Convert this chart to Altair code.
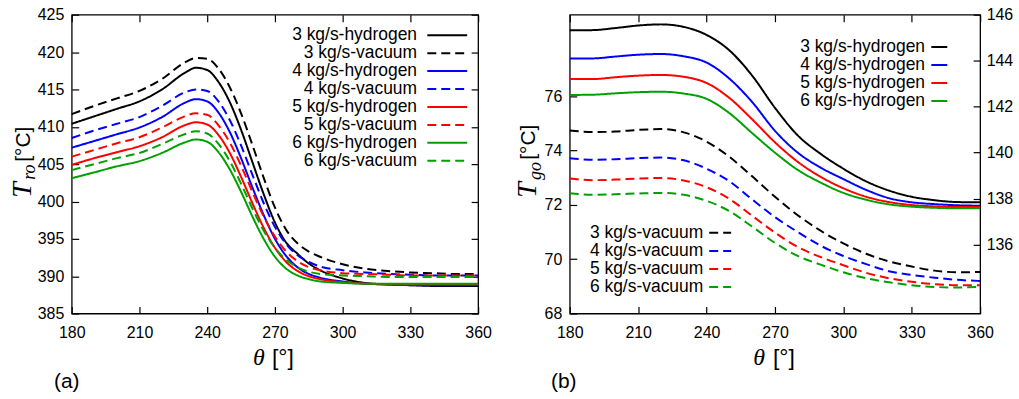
import altair as alt
import pandas as pd

# ---------------- data ----------------
theta_a = [180, 190, 200, 210, 220, 230, 235, 240, 245, 250, 255, 260, 265,
           270, 275, 280, 285, 290, 300, 310, 320, 330, 340, 350, 360]
ro_h3 = [410.4, 411.4, 412.4, 413.4, 415.0, 417.2, 417.9, 417.6, 416.0, 413.3, 409.6, 405.3, 401.0,
         397.2, 394.5, 393.0, 391.7, 390.8, 389.7, 389.1, 388.9, 388.8, 388.7, 388.7, 388.7]
ro_v3 = [411.7, 412.8, 413.8, 414.8, 416.4, 418.6, 419.2, 419.1, 417.8, 415.3, 411.8, 407.6, 403.2,
         399.2, 396.2, 394.4, 393.3, 392.6, 391.6, 391.0, 390.7, 390.5, 390.4, 390.3, 390.3]
ro_h4 = [407.2, 408.1, 409.0, 409.9, 411.3, 413.2, 413.7, 413.4, 411.9, 409.3, 405.8, 401.9, 398.2,
         395.0, 392.7, 391.2, 390.3, 389.8, 389.3, 389.0, 388.9, 388.8, 388.8, 388.8, 388.8]
ro_v4 = [408.5, 409.5, 410.4, 411.3, 412.8, 414.6, 415.0, 414.8, 413.4, 410.9, 407.5, 403.6, 399.8,
         396.6, 394.3, 392.8, 391.9, 391.3, 390.8, 390.5, 390.3, 390.2, 390.1, 390.1, 390.1]
ro_h5 = [404.9, 405.8, 406.6, 407.4, 408.6, 410.2, 410.6, 410.3, 408.9, 406.5, 403.3, 399.8, 396.5,
         393.8, 391.9, 390.7, 390.0, 389.6, 389.2, 389.0, 388.9, 388.9, 388.9, 388.9, 388.9]
ro_v5 = [406.0, 406.9, 407.8, 408.6, 409.9, 411.4, 411.8, 411.6, 410.2, 407.9, 404.8, 401.3, 398.0,
         395.3, 393.3, 392.0, 391.2, 390.8, 390.4, 390.3, 390.2, 390.1, 390.1, 390.1, 390.1]
ro_h6 = [403.1, 403.9, 404.7, 405.4, 406.5, 407.9, 408.3, 408.0, 406.6, 404.3, 401.3, 398.0, 395.0,
         392.6, 391.0, 390.1, 389.6, 389.3, 389.1, 389.0, 389.0, 389.0, 389.0, 389.0, 389.0]
ro_v6 = [404.2, 405.0, 405.8, 406.5, 407.7, 409.0, 409.4, 409.1, 407.7, 405.4, 402.4, 399.1, 396.1,
         393.8, 392.2, 391.2, 390.6, 390.3, 390.1, 390.0, 389.9, 389.9, 389.9, 389.9, 389.9]

theta_b = [180, 190, 200, 210, 220, 230, 240, 250, 260, 270, 280, 290, 300, 310, 320, 330, 340, 350, 360]
go_h3 = [145.32, 145.33, 145.42, 145.53, 145.58, 145.47, 145.12, 144.45, 143.35, 141.95,
         140.75, 139.95, 139.3, 138.75, 138.35, 138.08, 137.93, 137.85, 137.84]
go_h4 = [144.10, 144.10, 144.18, 144.26, 144.29, 144.19, 143.92, 143.22, 142.2, 140.95,
         140.0, 139.35, 138.85, 138.38, 138.02, 137.84, 137.76, 137.71, 137.69]
go_h5 = [143.2, 143.2, 143.28, 143.35, 143.38, 143.3, 143.03, 142.38, 141.45, 140.45,
         139.6, 138.95, 138.45, 138.08, 137.85, 137.72, 137.66, 137.63, 137.63]
go_h6 = [142.51, 142.52, 142.58, 142.63, 142.65, 142.57, 142.34, 141.72, 140.85, 140.0,
         139.25, 138.7, 138.25, 137.95, 137.75, 137.65, 137.6, 137.58, 137.58]
go_v3 = [74.74, 74.68, 74.70, 74.76, 74.79, 74.67, 74.33, 73.77, 73.05, 72.3,
         71.62, 71.05, 70.58, 70.2, 69.92, 69.73, 69.58, 69.52, 69.53]
go_v4 = [73.72, 73.66, 73.68, 73.72, 73.74, 73.64, 73.33, 72.87, 72.2, 71.55,
         71.0, 70.5, 70.12, 69.82, 69.56, 69.42, 69.32, 69.24, 69.2]
go_v5 = [72.97, 72.91, 72.93, 72.97, 72.99, 72.9, 72.65, 72.22, 71.6, 70.98,
         70.45, 70.08, 69.78, 69.5, 69.3, 69.17, 69.08, 69.04, 69.04]
go_v6 = [72.43, 72.37, 72.39, 72.42, 72.44, 72.37, 72.15, 71.77, 71.2, 70.6,
         70.12, 69.8, 69.52, 69.3, 69.15, 69.04, 68.98, 68.96, 68.98]

rates = ["3", "4", "5", "6"]
rate_colors = ["#000000", "#0000ff", "#ff0000", "#00a000"]
kinds = ["hydrogen", "vacuum"]
kind_dashes = [[1, 0], [9, 5]]

ticks_x = [180, 210, 240, 270, 300, 330, 360]
ticks_ro = [385, 390, 395, 400, 405, 410, 415, 420, 425]
ticks_go_vac = [68, 70, 72, 74, 76]
ticks_go_h2 = [136, 138, 140, 142, 144, 146]

W_A, W_B, H = 408, 412, 300
FONT = "Liberation Sans"
SERIF = "Liberation Serif"


def long_df(theta, series):
    rows = []
    for (rate, kind), vals in series:
        for t, v in zip(theta, vals):
            rows.append({"theta": t, "value": v, "rate": rate, "kind": kind,
                         "series": f"{rate} kg/s-{kind}"})
    return pd.DataFrame(rows)


df_a = long_df(theta_a, [(("3", "hydrogen"), ro_h3), (("3", "vacuum"), ro_v3),
                         (("4", "hydrogen"), ro_h4), (("4", "vacuum"), ro_v4),
                         (("5", "hydrogen"), ro_h5), (("5", "vacuum"), ro_v5),
                         (("6", "hydrogen"), ro_h6), (("6", "vacuum"), ro_v6)])
df_bh = long_df(theta_b, [(("3", "hydrogen"), go_h3), (("4", "hydrogen"), go_h4),
                          (("5", "hydrogen"), go_h5), (("6", "hydrogen"), go_h6)])
df_bv = long_df(theta_b, [(("3", "vacuum"), go_v3), (("4", "vacuum"), go_v4),
                          (("5", "vacuum"), go_v5), (("6", "vacuum"), go_v6)])

color_enc = alt.Color("rate:N", scale=alt.Scale(domain=rates, range=rate_colors), legend=None)
dash_enc = alt.StrokeDash("kind:N", scale=alt.Scale(domain=kinds, range=kind_dashes), legend=None)
xscale = alt.Scale(domain=[180, 360], nice=False, zero=False)


def xaxis_labels():
    return alt.Axis(orient="bottom", values=ticks_x, ticks=False, tickSize=0, labelPadding=11,
                    title=None, domain=False, labelFlush=False, grid=False)


def tick_axis(orient, offset, values):
    return alt.Axis(orient=orient, offset=offset, values=values, labels=False, ticks=True,
                    tickSize=7, title=None, domain=False, grid=False)


def lines(df, ydom, xaxis, yaxis):
    return alt.Chart(df).mark_line(strokeWidth=2, interpolate="monotone").encode(
        x=alt.X("theta:Q", scale=xscale, axis=xaxis),
        y=alt.Y("value:Q", scale=alt.Scale(domain=ydom, nice=False, zero=False), axis=yaxis),
        color=color_enc, strokeDash=dash_enc, detail="series:N")


def ghost(df, ydom, xaxis, yaxis):
    return alt.Chart(df).mark_point(opacity=0).encode(
        x=alt.X("theta:Q", scale=xscale, axis=xaxis),
        y=alt.Y("value:Q", scale=alt.Scale(domain=ydom, nice=False, zero=False), axis=yaxis))


def legend(entries, x_text, x1, x2, y_first, y_last):
    ldf = pd.DataFrame([{"label": f"{r} kg/s-{k}", "rate": r, "kind": k, "row": i}
                        for i, (r, k) in enumerate(entries)])
    ys = alt.Y("row:Q", scale=alt.Scale(domain=[0, len(entries) - 1], range=[y_first, y_last]), axis=None)
    txt = alt.Chart(ldf).mark_text(align="right", baseline="middle", fontSize=17.5, font=FONT,
                                   color="black").encode(x=alt.value(x_text), y=ys, text="label:N")
    seg = alt.Chart(ldf).mark_rule(strokeWidth=2).encode(
        x=alt.value(x1), x2=alt.value(x2), y=ys, color=color_enc, strokeDash=dash_enc)
    return [txt, seg]


def label(text, x, y, size, angle=0, italic=False, serif=False):
    return alt.Chart(pd.DataFrame({"t": [text]})).mark_text(
        fontSize=size, angle=angle, fontStyle="italic" if italic else "normal",
        font=SERIF if serif else FONT, align="center", baseline="middle", color="black"
    ).encode(x=alt.value(x), y=alt.value(y), text="t:N")


# ---------------- panel (a) ----------------
dom_a = [385, 425]
yaxis_a = alt.Axis(orient="left", values=ticks_ro, ticks=False, tickSize=0, labelPadding=8,
                   title=None, domain=False, grid=False)
layers_a = [
    lines(df_a, dom_a, xaxis_labels(), yaxis_a),
    ghost(df_a, dom_a, tick_axis("top", -H, ticks_x), tick_axis("right", -W_A, ticks_ro)),
    ghost(df_a, dom_a, tick_axis("bottom", -H, ticks_x), tick_axis("left", -W_A, ticks_ro)),
]
layers_a += legend([(r, k) for r in rates for k in kinds], 346.7, 357, 397, 20.6, 146.6)
layers_a += [
    label("T", -49, 176, 28, angle=270, italic=True, serif=True),
    label("ro", -42, 158, 18, angle=270, italic=True, serif=True),
    label("[°C]", -48, 130, 21, angle=270),
    label("θ", 188, 345, 24, italic=True, serif=True),
    label("[°]", 212, 345, 23),
    label("(a)", -5, 369, 21),
]
panel_a = alt.layer(*layers_a).properties(width=W_A, height=H).resolve_scale(
    y="independent").resolve_axis(x="independent", y="independent")

# ---------------- panel (b) ----------------
dom_bv = [68, 79]
dom_bh = [133, 146]
yaxis_bv = alt.Axis(orient="left", values=ticks_go_vac, ticks=False, tickSize=0, labelPadding=8,
                    title=None, domain=False, grid=False)
yaxis_bh = alt.Axis(orient="right", values=ticks_go_h2, ticks=False, tickSize=0, labelPadding=6,
                    title=None, domain=False, grid=False)
layers_b = [
    lines(df_bv, dom_bv, xaxis_labels(), yaxis_bv),
    lines(df_bh, dom_bh, None, yaxis_bh),
    ghost(df_bv, dom_bv, tick_axis("top", -H, ticks_x), tick_axis("right", -W_B, ticks_go_vac)),
    ghost(df_bh, dom_bh, tick_axis("bottom", -H, ticks_x), tick_axis("left", -W_B, ticks_go_h2)),
]
layers_b += legend([(r, "hydrogen") for r in rates], 356.7, 363, 379, 32.3, 86.6)
layers_b += legend([(r, "vacuum") for r in rates], 134, 140, 162, 219, 273.3)
layers_b += [
    label("T", -42, 176, 28, angle=270, italic=True, serif=True),
    label("go", -34, 157, 18, angle=270, italic=True, serif=True),
    label("[°C]", -41, 128, 21, angle=270),
    label("θ", 190, 345, 24, italic=True, serif=True),
    label("[°]", 215, 345, 23),
    label("(b)", -6, 369, 21),
]
panel_b = alt.layer(*layers_b).properties(width=W_B, height=H).resolve_scale(
    y="independent").resolve_axis(x="independent", y="independent")

chart = alt.hconcat(panel_a, panel_b, spacing=92, bounds="flush").properties(
    padding={"left": 8, "top": 5, "right": 5, "bottom": 2},
    background="white",
).configure(font=FONT).configure_axis(
    labelFont=FONT, labelFontSize=16, labelColor="black", tickColor="black", tickWidth=1.2,
).configure_view(stroke="black", strokeWidth=1.3)

chart.save("out.html", embed_options={"renderer": "svg", "actions": False})
